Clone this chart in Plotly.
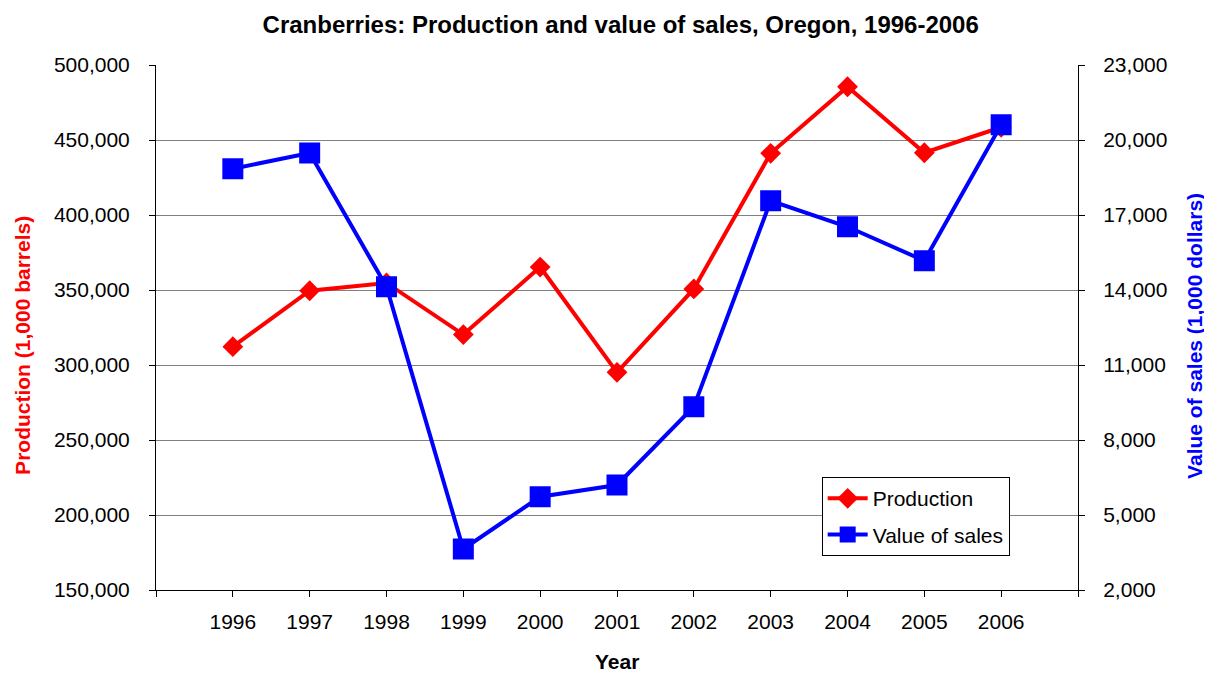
import plotly.graph_objects as go

years = [1996, 1997, 1998, 1999, 2000, 2001, 2002, 2003, 2004, 2005, 2006]
production = [312200, 349500, 354700, 320300, 365300, 295100, 350700, 441100, 485500, 441500, 458500]
value_sales = [18850, 19480, 14130, 3640, 5730, 6200, 9330, 17570, 16530, 15170, 20610]

x_tickvals = [1995, 1996, 1997, 1998, 1999, 2000, 2001, 2002, 2003, 2004, 2005, 2006, 2007]
x_ticktext = [""] + [str(y) for y in years] + [""]

left_ticks = [150000, 200000, 250000, 300000, 350000, 400000, 450000, 500000]
right_ticks = [2000, 5000, 8000, 11000, 14000, 17000, 20000, 23000]

FONT = "Liberation Sans, Arial, sans-serif"
FS = 21

W, H = 1204, 665  # page body has an 8px margin

fig = go.Figure()
fig.add_trace(go.Scatter(
    x=years, y=production, name="Production", mode="lines+markers",
    line=dict(color="#FF0000", width=4),
    marker=dict(symbol="diamond", size=16, color="#FF0000"),
    legendgroup="a", yaxis="y"))
fig.add_trace(go.Scatter(
    x=years, y=value_sales, name="Value of sales", mode="lines+markers",
    line=dict(color="#0000FF", width=4),
    marker=dict(symbol="square", size=21, color="#0000FF"),
    legendgroup="b", yaxis="y2"))

fig.update_layout(
    width=W, height=H,
    margin=dict(l=148, r=134, t=57, b=83),
    paper_bgcolor="white", plot_bgcolor="white",
    font=dict(family=FONT, size=FS, color="black"),
    showlegend=True,
    title=dict(text="<b>Cranberries: Production and value of sales, Oregon, 1996-2006</b>",
               x=0.504, xref="paper", y=1 - 17 / H, yref="container",
               xanchor="center", yanchor="middle",
               font=dict(family=FONT, size=24, color="black")),
    xaxis=dict(range=[1995, 2007], tickmode="array", tickvals=x_tickvals, ticktext=x_ticktext,
               showgrid=False, zeroline=False, showline=True, linecolor="black", linewidth=1,
               ticks="outside", ticklen=6, tickcolor="black", ticklabelstandoff=7,
               tickfont=dict(family=FONT, size=FS, color="black")),
    yaxis=dict(range=[150000, 500000], tickmode="array", tickvals=left_ticks,
               tickformat=",d", showgrid=True, gridcolor="#808080", gridwidth=1,
               zeroline=False, showline=True, linecolor="black", linewidth=1,
               ticks="outside", ticklen=6, tickcolor="black", ticklabelstandoff=15,
               tickfont=dict(family=FONT, size=FS, color="black")),
    yaxis2=dict(range=[2000, 23000], tickmode="array", tickvals=right_ticks,
                tickformat=",d", overlaying="y", side="right", showgrid=False,
                zeroline=False, showline=True, linecolor="black", linewidth=1,
                ticks="outside", ticklen=6, tickcolor="black", ticklabelstandoff=14,
                tickfont=dict(family=FONT, size=FS, color="black")),
    legend=dict(x=0.722, y=0.215, xanchor="left", yanchor="top",
                bgcolor="white", bordercolor="black", borderwidth=1,
                font=dict(family=FONT, size=FS, color="black"),
                traceorder="grouped", tracegroupgap=6, itemwidth=40),
    annotations=[
        dict(text="<b>Production (1,000 barrels)</b>", xref="paper", yref="paper",
             x=(15 - 148) / 922, y=0.465, textangle=-90, showarrow=False,
             xanchor="center", yanchor="middle",
             font=dict(family=FONT, size=21, color="#FF0000")),
        dict(text="<b>Value of sales (1,000 dollars)</b>", xref="paper", yref="paper",
             x=(1187 - 148) / 922, y=0.484, textangle=-90, showarrow=False,
             xanchor="center", yanchor="middle",
             font=dict(family=FONT, size=21, color="#0000FF")),
        dict(text="<b>Year</b>", xref="paper", yref="paper",
             x=0.5, y=(582 - 653) / 525, showarrow=False,
             xanchor="center", yanchor="middle",
             font=dict(family=FONT, size=21, color="black")),
    ],
)

fig.write_html("out.html")
